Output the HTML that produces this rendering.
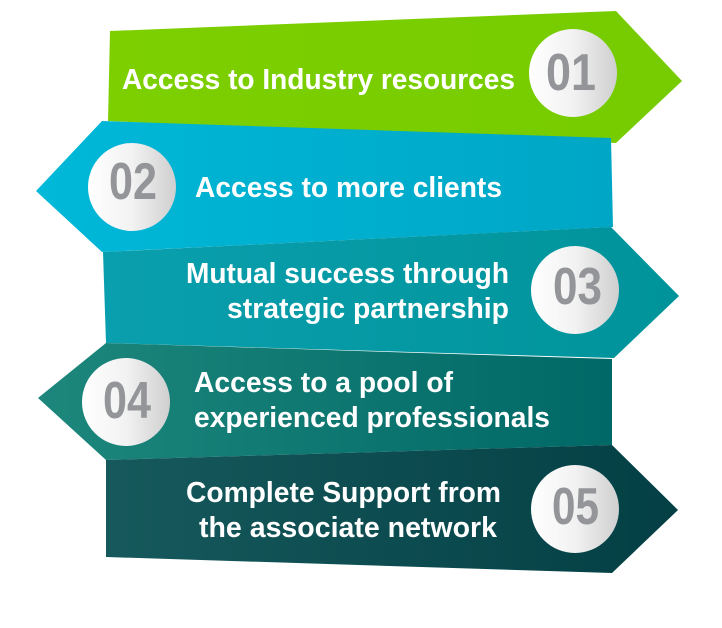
<!DOCTYPE html>
<html><head><meta charset="utf-8"><style>html,body{margin:0;padding:0;background:#fff}svg{display:block}</style></head><body>
<svg width="722" height="628" viewBox="0 0 722 628" xmlns="http://www.w3.org/2000/svg">
<defs>
<linearGradient id="g1" x1="0" x2="1"><stop offset="0" stop-color="#7dcf00"/><stop offset="1" stop-color="#76cc00"/></linearGradient>
<linearGradient id="g2" x1="0" x2="1"><stop offset="0" stop-color="#00b8d8"/><stop offset="1" stop-color="#00a6c6"/></linearGradient>
<linearGradient id="g3" x1="0" x2="1"><stop offset="0" stop-color="#0a9fae"/><stop offset="1" stop-color="#00939a"/></linearGradient>
<linearGradient id="g4" x1="0" x2="1"><stop offset="0" stop-color="#1d877c"/><stop offset="1" stop-color="#006866"/></linearGradient>
<linearGradient id="g5" x1="0" x2="1"><stop offset="0" stop-color="#16595c"/><stop offset="1" stop-color="#033f44"/></linearGradient>
<linearGradient id="c" x1="0" x2="1"><stop offset="0" stop-color="#ffffff"/><stop offset="0.5" stop-color="#f2f2f2"/><stop offset="1" stop-color="#cfcfd0"/></linearGradient>
</defs>
<polygon points="110,31 616,11 682,81 616,143 108,121" fill="url(#g1)"/>
<polygon points="102,121 611,138 613,227 102,252 36,191" fill="url(#g2)"/>
<polygon points="103,252 611,227 679,296 614,358 106,343" fill="url(#g3)"/>
<polygon points="106,343 612,359 612,445 106,460 38,398" fill="url(#g4)"/>
<polygon points="106,460 612,445 678,510 612,573 106,557" fill="url(#g5)"/>
<g fill="url(#c)">
<ellipse cx="573" cy="73" rx="44" ry="44"/>
<ellipse cx="132" cy="187" rx="44" ry="44"/>
<ellipse cx="575" cy="290" rx="44" ry="44"/>
<ellipse cx="126" cy="402" rx="44" ry="44"/>
<ellipse cx="575" cy="509" rx="44" ry="44"/>
</g>
<g font-family="Liberation Sans, sans-serif" font-weight="bold" fill="#939598" font-size="52">
<text x="546" y="90" textLength="50" lengthAdjust="spacingAndGlyphs">01</text>
<text x="109" y="199" textLength="48" lengthAdjust="spacingAndGlyphs">02</text>
<text x="553" y="304" textLength="49" lengthAdjust="spacingAndGlyphs">03</text>
<text x="103" y="418" textLength="48" lengthAdjust="spacingAndGlyphs">04</text>
<text x="552" y="524" textLength="47" lengthAdjust="spacingAndGlyphs">05</text>
</g>
<g font-family="Liberation Sans, sans-serif" font-weight="bold" fill="#fff" font-size="29">
<text x="122" y="89" textLength="393" lengthAdjust="spacingAndGlyphs">Access to Industry resources</text>
<text x="195" y="197" textLength="307" lengthAdjust="spacingAndGlyphs">Access to more clients</text>
<text x="186" y="283" textLength="323" lengthAdjust="spacingAndGlyphs">Mutual success through</text>
<text x="227" y="318" textLength="282" lengthAdjust="spacingAndGlyphs">strategic partnership</text>
<text x="194" y="392" textLength="259" lengthAdjust="spacingAndGlyphs">Access to a pool of</text>
<text x="194" y="427" textLength="356" lengthAdjust="spacingAndGlyphs">experienced professionals</text>
<text x="186" y="502" textLength="315" lengthAdjust="spacingAndGlyphs">Complete Support from</text>
<text x="199" y="537" textLength="298" lengthAdjust="spacingAndGlyphs">the associate network</text>
</g>
</svg>
</body></html>
